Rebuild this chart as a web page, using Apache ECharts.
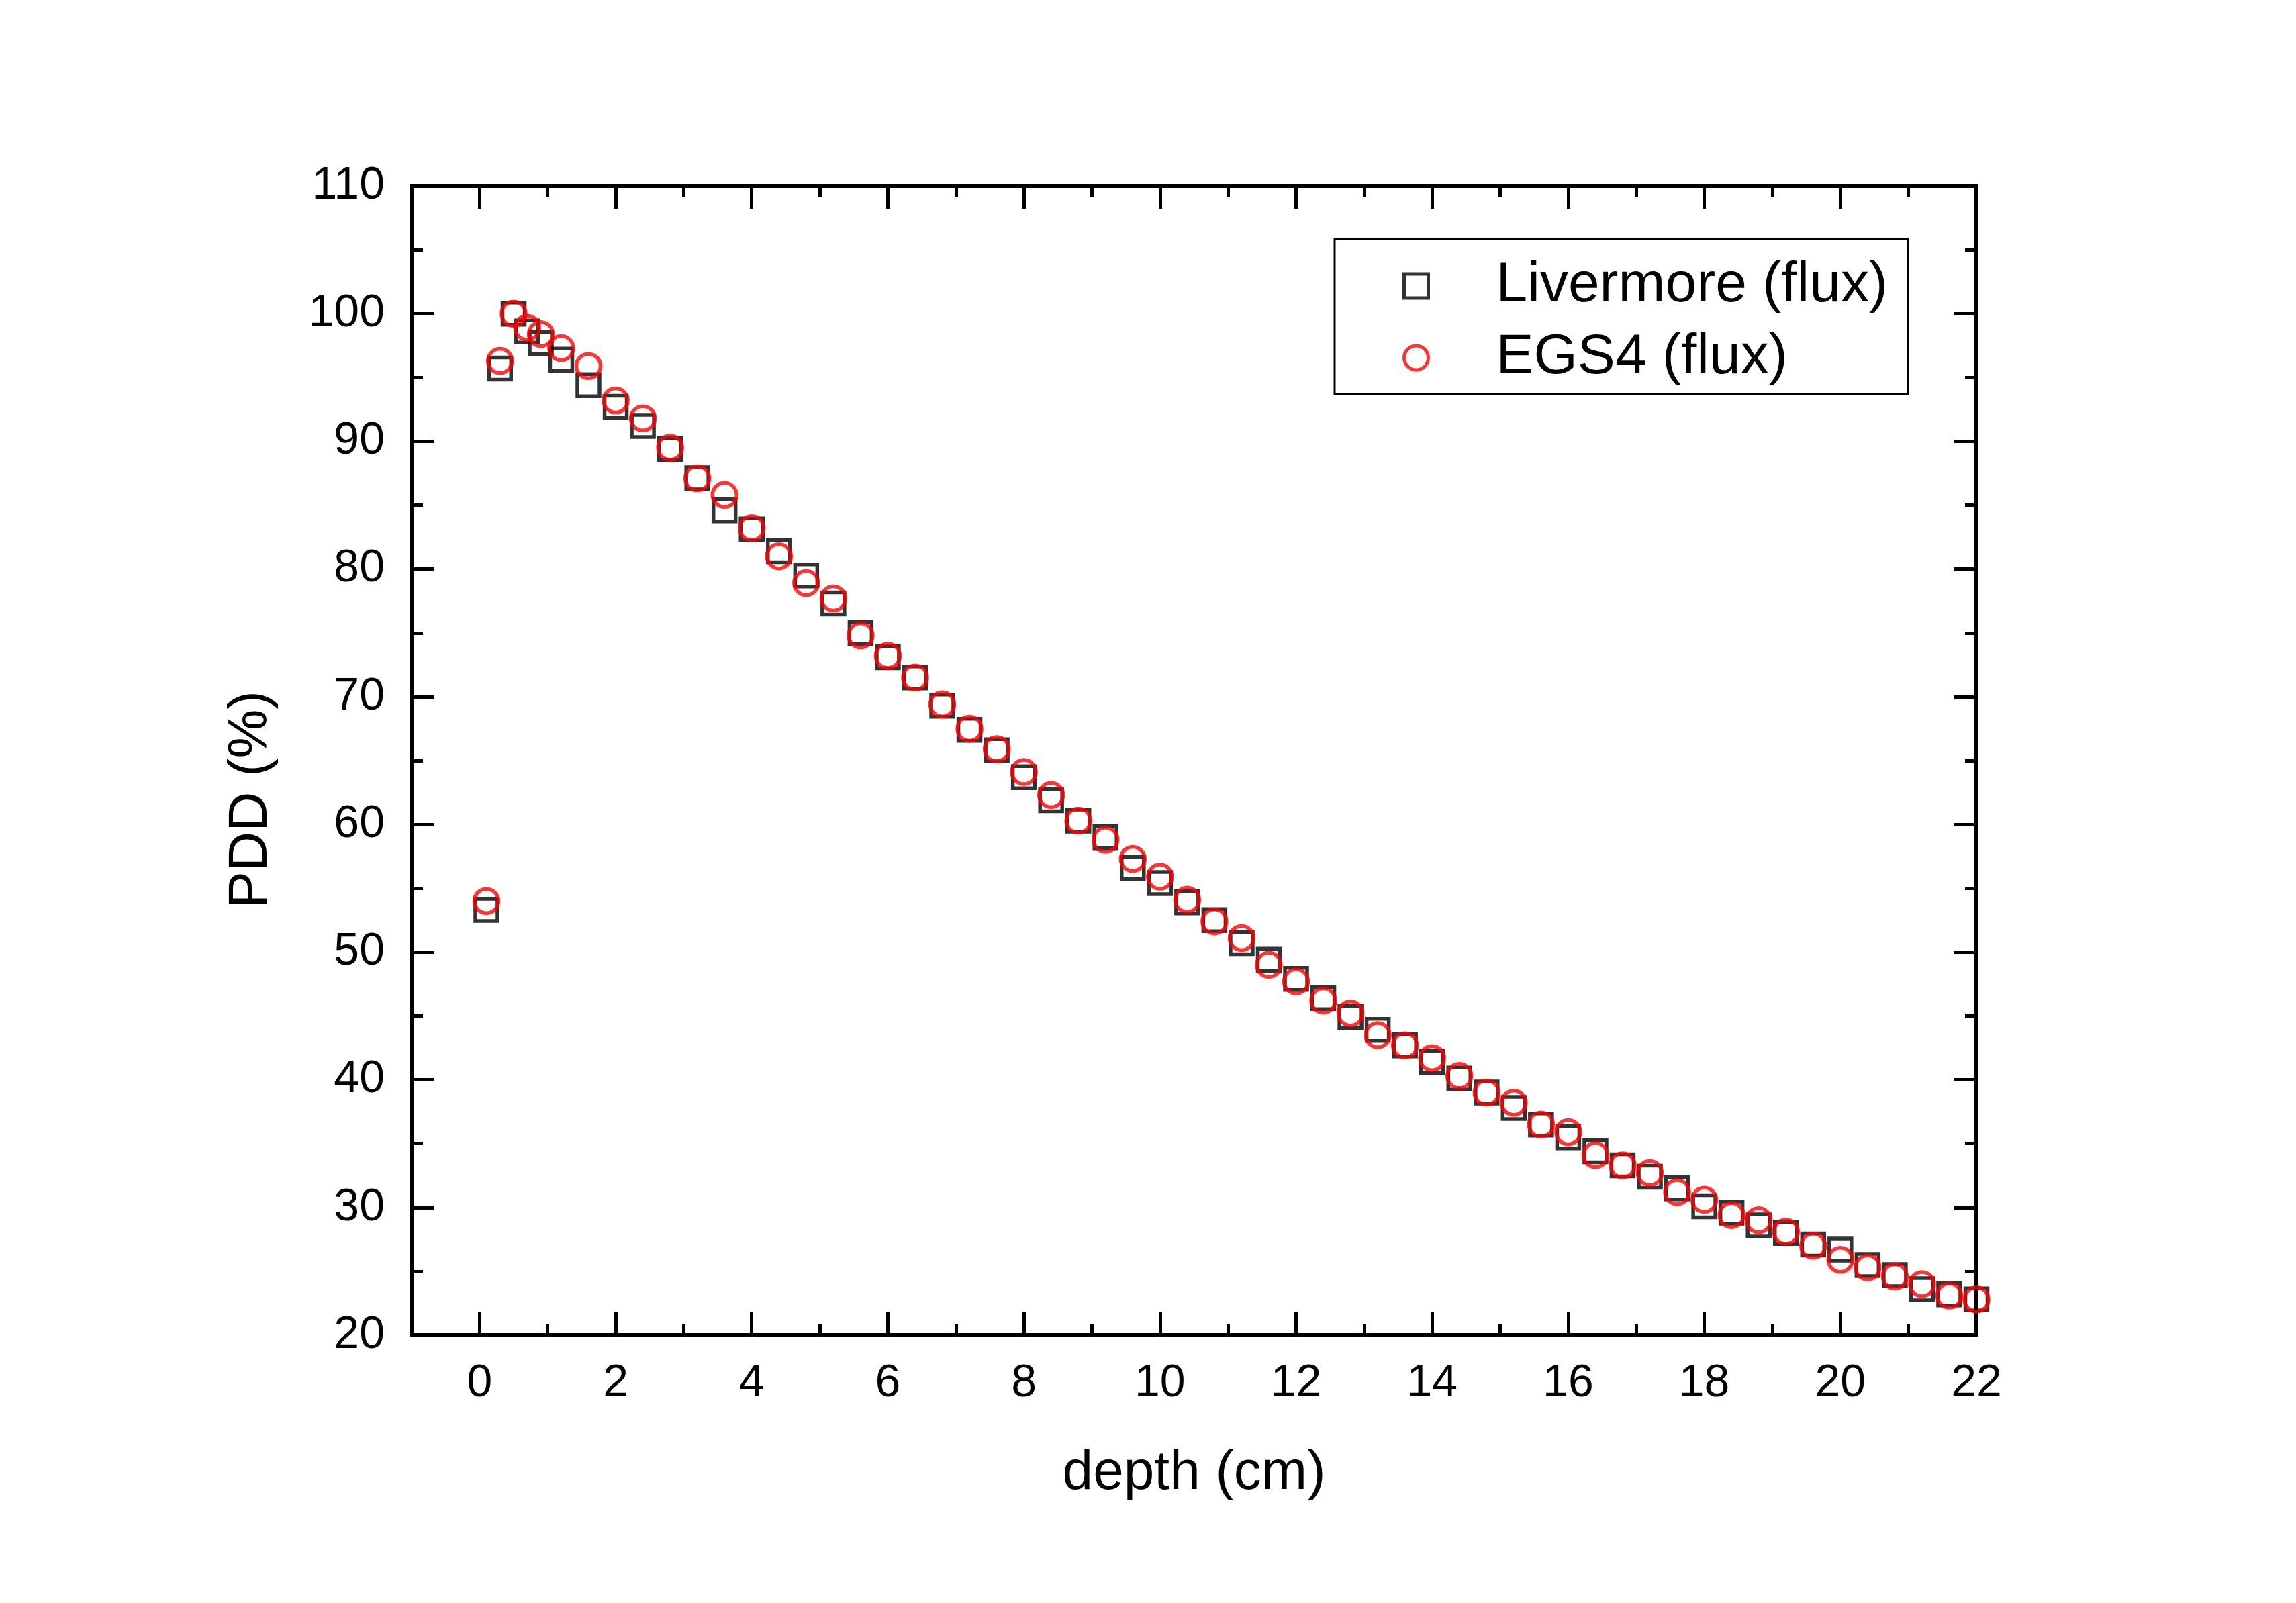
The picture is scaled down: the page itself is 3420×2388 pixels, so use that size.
<!DOCTYPE html>
<html>
<head>
<meta charset="utf-8">
<title>PDD</title>
<script src="https://cdn.jsdelivr.net/npm/echarts@6/dist/echarts.min.js"></script>
<style>
  html, body { margin: 0; padding: 0; background: #fff; }
  #chart { width: 3420px; height: 2388px; }
</style>
</head>
<body>
<div id="chart"></div>
<script>
// depth (cm)
const depth = [0.1, 0.3, 0.5, 0.7, 0.9, 1.2, 1.6, 2.0, 2.4, 2.8, 3.2, 3.6, 4.0, 4.4, 4.8, 5.2,
  5.6, 6.0, 6.4, 6.8, 7.2, 7.6, 8.0, 8.4, 8.8, 9.2, 9.6, 10.0, 10.4, 10.8, 11.2, 11.6, 12.0,
  12.4, 12.8, 13.2, 13.6, 14.0, 14.4, 14.8, 15.2, 15.6, 16.0, 16.4, 16.8, 17.2, 17.6, 18.0,
  18.4, 18.8, 19.2, 19.6, 20.0, 20.4, 20.8, 21.2, 21.6, 22.0]
// PDD (%) Livermore (flux)
const livermore = [53.3, 95.7, 100.0, 98.6, 97.7, 96.4, 94.4, 92.7, 91.2, 89.4, 87.1, 84.6,
  83.1, 81.4, 79.5, 77.3, 75.0, 73.1, 71.5, 69.3, 67.4, 65.8, 63.7, 61.9, 60.3, 59.0, 56.6,
  55.4, 53.9, 52.5, 50.7, 49.4, 47.9, 46.4, 44.9, 43.9, 42.7, 41.4, 40.1, 39.0, 37.8, 36.5,
  35.5, 34.4, 33.3, 32.4, 31.5, 30.1, 29.6, 28.6, 28.0, 27.1, 26.7, 25.5, 24.7, 23.6, 23.2, 22.8]
// PDD (%) EGS4 (flux)
const egs4 = [54.0, 96.3, 100.0, 98.9, 98.4, 97.3, 95.9, 93.2, 91.8, 89.5, 87.1, 85.8,
  83.2, 81.0, 78.9, 77.7, 74.8, 73.2, 71.5, 69.4, 67.5, 65.9, 64.1, 62.3, 60.3, 58.8, 57.3,
  55.9, 54.1, 52.4, 51.1, 49.0, 47.7, 46.2, 45.2, 43.5, 42.7, 41.7, 40.3, 39.0, 38.2, 36.5,
  35.9, 34.1, 33.3, 32.7, 31.2, 30.6, 29.4, 29.0, 28.1, 27.0, 25.9, 25.3, 24.6, 24.0, 23.1, 22.8]

// tick labels
const xMajorTicks = [0, 2, 4, 6, 8, 10, 12, 14, 16, 18, 20, 22]
const xMinorTicks = [1, 3, 5, 7, 9, 11, 13, 15, 17, 19, 21]
const seriesNames = ['Livermore (flux)', 'EGS4 (flux)']

const font = '"Liberation Sans", Arial, sans-serif'
const black = '#000'
const red = '#ff0000'

const chart = echarts.init(document.getElementById('chart'))

// common axis pieces
const lineStyle = { show: true, onZero: false, lineStyle: { color: black, width: 6 } }
const tickStyle = { color: black, width: 5 }
const xAxisBase = {
  type: 'value',
  min: -1,
  max: 22,
  splitLine: { show: false },
  axisLine: lineStyle
}
const yAxisBase = {
  type: 'value',
  min: 20,
  max: 110,
  interval: 10,
  splitLine: { show: false },
  minorSplitLine: { show: false },
  axisLine: lineStyle,
  axisTick: { inside: true, length: 34, lineStyle: tickStyle },
  minorTick: { show: true, splitNumber: 2, length: 17, lineStyle: tickStyle }
}

const option = {
  animation: false,
  backgroundColor: '#fff',
  grid: {
    left: 613,
    top: 277,
    right: 476,
    bottom: 399
  },
  legend: {
    orient: 'vertical',
    left: 1988,
    top: 356,
    padding: [28, 30, 12, 101],
    itemGap: 23,
    itemWidth: 36,
    itemHeight: 36,
    borderColor: black,
    borderWidth: 3,
    textStyle: { fontFamily: font, fontSize: 84, color: black, padding: [0, 0, 0, 96] },
    data: [
      { name: seriesNames[0], icon: 'rect', itemStyle: { color: 'rgba(0,0,0,0)', borderColor: black, borderWidth: 5 } },
      { name: seriesNames[1], icon: 'circle', itemStyle: { color: 'rgba(0,0,0,0)', borderColor: red, borderWidth: 5 } }
    ]
  },
  xAxis: [
    {
      ...xAxisBase,
      position: 'bottom',
      name: 'depth (cm)',
      nameLocation: 'middle',
      nameGap: 165,
      nameTextStyle: { fontFamily: font, fontSize: 82, color: black },
      axisTick: { inside: true, length: 34, customValues: xMajorTicks, lineStyle: tickStyle },
      axisLabel: { customValues: xMajorTicks, margin: 38, fontFamily: font, fontSize: 68, color: black }
    },
    {
      ...xAxisBase,
      position: 'bottom',
      axisTick: { inside: true, length: 17, customValues: xMinorTicks, lineStyle: tickStyle },
      axisLabel: { show: false }
    },
    {
      ...xAxisBase,
      position: 'top',
      axisTick: { inside: true, length: 34, customValues: xMajorTicks, lineStyle: tickStyle },
      axisLabel: { show: false }
    },
    {
      ...xAxisBase,
      position: 'top',
      axisTick: { inside: true, length: 17, customValues: xMinorTicks, lineStyle: tickStyle },
      axisLabel: { show: false }
    }
  ],
  yAxis: [
    {
      ...yAxisBase,
      position: 'left',
      name: 'PDD (%)',
      nameLocation: 'middle',
      nameGap: 198,
      nameTextStyle: { fontFamily: font, fontSize: 82, color: black, padding: [0, 116, 0, 0] },
      axisLabel: { margin: 40, fontFamily: font, fontSize: 68, color: black }
    },
    {
      ...yAxisBase,
      position: 'right',
      axisLabel: { show: false }
    }
  ],
  series: [
    {
      name: seriesNames[0],
      type: 'scatter',
      symbol: 'rect',
      symbolSize: 33,
      itemStyle: { color: 'rgba(0,0,0,0)', borderColor: black, borderWidth: 5.5 },
      data: depth.map((d, i) => [d, livermore[i]])
    },
    {
      name: seriesNames[1],
      type: 'scatter',
      symbol: 'circle',
      symbolSize: 36,
      itemStyle: { color: 'rgba(0,0,0,0)', borderColor: red, borderWidth: 5.5 },
      data: depth.map((d, i) => [d, egs4[i]])
    }
  ]
}

chart.setOption(option)

window.addEventListener('resize', () => {
  chart.resize()
})
</script>
</body>
</html>
